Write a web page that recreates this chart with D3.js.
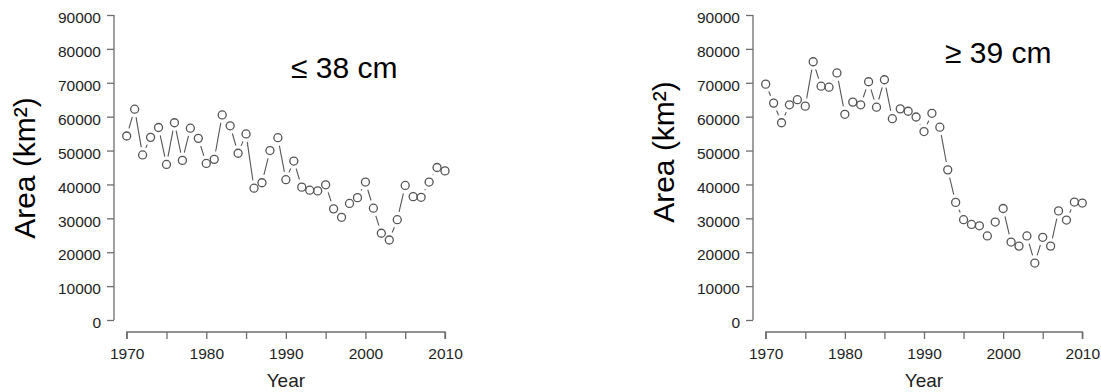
<!DOCTYPE html>
<html>
<head>
<meta charset="utf-8">
<script src="https://cdn.jsdelivr.net/npm/d3@7"></script>
<style>
  html, body { margin: 0; padding: 0; background: #fff; }
  svg { display: block; font-family: Arial, "Liberation Sans", Helvetica, sans-serif; }
</style>
</head>
<body>
<svg id="chart" width="1101" height="392"></svg>
<script>
// Annual area, 1970–2010, for two size classes
const years = [1970, 1971, 1972, 1973, 1974, 1975, 1976, 1977, 1978, 1979,
               1980, 1981, 1982, 1983, 1984, 1985, 1986, 1987, 1988, 1989,
               1990, 1991, 1992, 1993, 1994, 1995, 1996, 1997, 1998, 1999,
               2000, 2001, 2002, 2003, 2004, 2005, 2006, 2007, 2008, 2009, 2010];

const areaSmall = [54300, 62200, 48700, 53900, 56800, 45900, 58200, 47100, 56600, 53600,
                   46200, 47400, 60500, 57300, 49200, 54900, 38900, 40500, 50000, 53800,
                   41400, 46900, 39200, 38300, 38100, 39900, 32800, 30300, 34400, 36100,
                   40700, 33000, 25600, 23600, 29600, 39700, 36400, 36200, 40700, 45000, 44000];

const areaLarge = [69600, 64000, 58200, 63500, 65000, 63100, 76200, 69000, 68700, 72900,
                   60700, 64300, 63500, 70300, 62800, 70900, 59400, 62300, 61600, 59900,
                   55600, 61000, 56900, 44300, 34700, 29600, 28200, 27800, 24800, 28900,
                   32900, 23000, 21800, 24800, 16800, 24400, 21800, 32200, 29500, 34800, 34500];

const yTicks = [0, 10000, 20000, 30000, 40000, 50000, 60000, 70000, 80000, 90000];
const xTicks = [1970, 1975, 1980, 1985, 1990, 1995, 2000, 2005, 2010];
const xTickLabels = [1970, 1980, 1990, 2000, 2010];

const panels = [
  { label: "\u2264 38 cm", values: areaSmall, left: 126.7, right: 445, yAxisX: 114,
    labelX: 291, labelY: 78, titleY: 168 },
  { label: "\u2265 39 cm", values: areaLarge, left: 765.7, right: 1082.3, yAxisX: 753,
    labelX: 945, labelY: 63, titleY: 152 }
];

const svg = d3.select("#chart");
const plotTop = 15, plotBottom = 320, xAxisY = 332;
const axisColor = "#6e6e6e", textColor = "#1e1e1e", markColor = "#555";
const r = 4, gap = 8;

panels.forEach(p => {
  const g = svg.append("g");
  const x = d3.scaleLinear().domain([1970, 2010]).range([p.left, p.right]);
  const y = d3.scaleLinear().domain([0, 90000]).range([plotBottom, plotTop]);

  // y axis (detached, R style)
  const yAx = g.append("g").attr("transform", `translate(${p.yAxisX},0)`)
    .call(d3.axisLeft(y).tickValues(yTicks).tickSize(7).tickPadding(6).tickFormat(d3.format("d")));
  yAx.select(".domain").attr("d", `M0,${y(0)}V${y(90000)}`).attr("stroke", axisColor).attr("stroke-width", 1.3);
  yAx.selectAll(".tick line").attr("stroke", axisColor).attr("stroke-width", 1.3);
  yAx.selectAll(".tick text").attr("fill", textColor).attr("font-size", 15.5)
    .attr("dy", "0.5em");

  // x axis
  const xAx = g.append("g").attr("transform", `translate(0,${xAxisY})`)
    .call(d3.axisBottom(x).tickValues(xTicks).tickSize(7).tickPadding(9)
      .tickFormat(d => xTickLabels.includes(d) ? d : ""));
  xAx.select(".domain").attr("d", `M${x(1970)},7V0H${x(2010)}V7`).attr("stroke", axisColor).attr("stroke-width", 1.3).attr("fill", "none");
  xAx.selectAll(".tick line").attr("stroke", axisColor).attr("stroke-width", 1.3);
  xAx.selectAll(".tick text").attr("fill", textColor).attr("font-size", 15.5);

  // make the axis text use the page font
  g.selectAll(".tick text").attr("font-family", "Arial, 'Liberation Sans', sans-serif");

  // axis titles
  g.append("text").attr("x", (p.left + p.right) / 2).attr("y", 387)
    .attr("text-anchor", "middle").attr("font-size", 19).attr("fill", textColor).text("Year");
  g.append("text").attr("transform", `translate(${p.yAxisX - 79},${p.titleY}) rotate(-90)`)
    .attr("text-anchor", "middle").attr("font-size", 30).attr("fill", "#000").text("Area (km\u00b2)");

  // size-class label
  g.append("text").attr("x", p.labelX).attr("y", p.labelY)
    .attr("font-size", 30).attr("fill", "#000").text(p.label);

  // connecting segments, broken around each point
  const pts = years.map((yr, i) => [x(yr), y(p.values[i])]);
  const segs = [];
  for (let i = 0; i < pts.length - 1; i++) {
    const [x1, y1] = pts[i], [x2, y2] = pts[i + 1];
    const len = Math.hypot(x2 - x1, y2 - y1);
    if (len <= 2 * gap) continue;
    const ux = (x2 - x1) / len, uy = (y2 - y1) / len;
    segs.push([x1 + ux * gap, y1 + uy * gap, x2 - ux * gap, y2 - uy * gap]);
  }
  g.append("g").selectAll("line").data(segs).join("line")
    .attr("x1", d => d[0]).attr("y1", d => d[1]).attr("x2", d => d[2]).attr("y2", d => d[3])
    .attr("stroke", markColor).attr("stroke-width", 1.1);

  g.append("g").selectAll("circle").data(pts).join("circle")
    .attr("cx", d => d[0]).attr("cy", d => d[1]).attr("r", r)
    .attr("fill", "none").attr("stroke", markColor).attr("stroke-width", 1.3);
});
</script>
</body>
</html>
